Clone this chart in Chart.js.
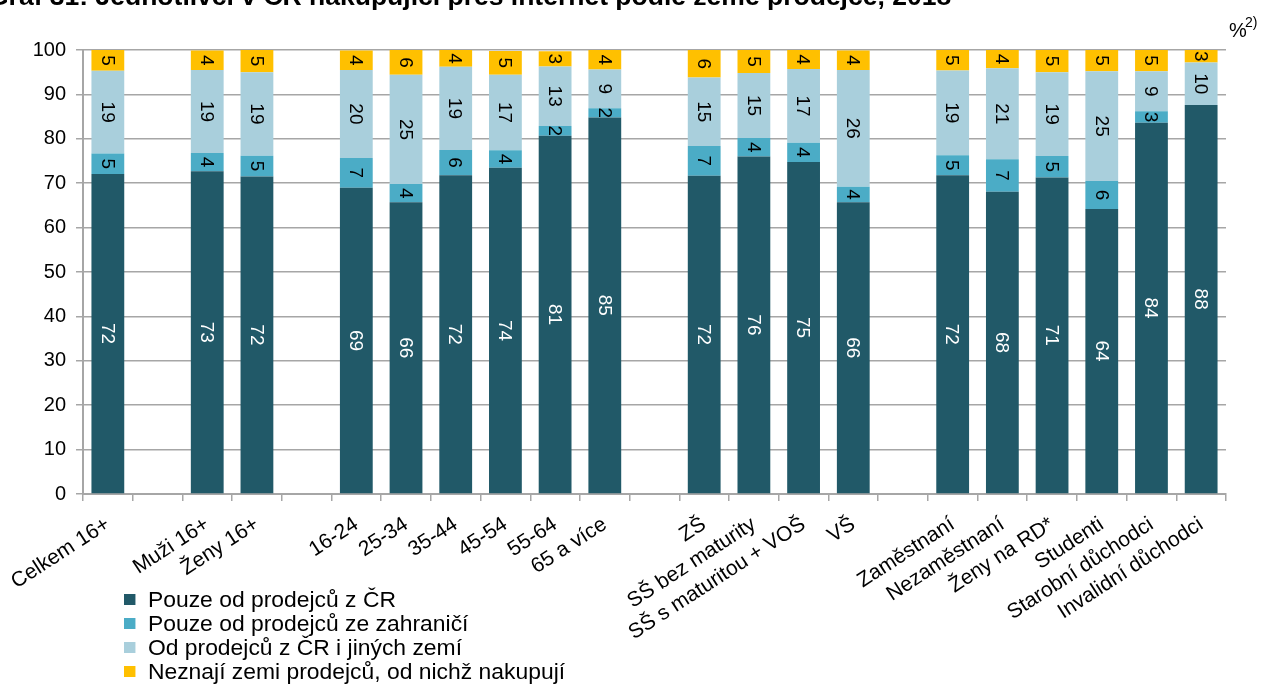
<!DOCTYPE html>
<html>
<head>
<meta charset="utf-8">
<script src="https://cdn.jsdelivr.net/npm/chart.js@4"></script>
<style>
  html, body { margin: 0; padding: 0; background: #fff; }
  #wrap { position: relative; width: 1265px; height: 688px; overflow: hidden; }
  #legend { position: absolute; left: 124px; top: 588px; font: 22px "Liberation Sans", Arial, sans-serif; color: #000; transform: scaleX(1.04); transform-origin: 0 0; }
  #legend div { height: 24px; line-height: 24px; white-space: nowrap; }
  #legend span { display: inline-block; width: 11px; height: 11px; margin-right: 12px; vertical-align: 2px; }
</style>
</head>
<body>
<div id="wrap">
  <canvas id="chart" width="1265" height="688"></canvas>
  <div id="legend"></div>
</div>
<script>
// empty strings are the gaps between groups
const categories = [
    "Celkem 16+", "",
    "Muži 16+", "Ženy 16+", "",
    "16-24", "25-34", "35-44", "45-54", "55-64", "65 a více", "",
    "ZŠ", "SŠ bez maturity", "SŠ s maturitou + VOŠ", "VŠ", "",
    "Zaměstnaní", "Nezaměstnaní", "Ženy na RD*", "Studenti", "Starobní důchodci", "Invalidní důchodci"
];

const onlyCz      = [72.1, null, 72.7, 71.5, null, 69.0, 65.7, 71.8, 73.5, 80.7, 84.8, null, 71.7, 76.0, 74.8, 65.7, null, 71.8, 68.1, 71.3, 64.2, 83.6, 87.6];
const onlyAbroad  = [4.6, null, 4.1, 4.7, null, 6.7, 4.1, 5.7, 3.9, 2.2, 2.1, null, 6.7, 4.2, 4.3, 3.5, null, 4.5, 7.3, 4.8, 6.3, 2.6, 0];
const czAndOther  = [18.6, null, 18.7, 18.8, null, 19.8, 24.6, 18.7, 17.0, 13.4, 8.7, null, 15.4, 14.6, 16.6, 26.3, null, 19.1, 20.5, 18.9, 24.7, 9.0, 9.6];
const unknown     = [4.7, null, 4.4, 5.0, null, 4.4, 5.6, 3.8, 5.4, 3.4, 4.4, null, 6.2, 5.2, 4.3, 4.4, null, 4.6, 4.1, 5.0, 4.8, 4.8, 2.8];

const yTicks = [0, 10, 20, 30, 40, 50, 60, 70, 80, 90, 100];

const seriesNames = [
    "Pouze od prodejců z ČR",
    "Pouze od prodejců ze zahraničí",
    "Od prodejců z ČR i jiných zemí",
    "Neznají zemi prodejců, od nichž nakupují"
];
const seriesColors = ["#215968", "#4BACC6", "#A9CFDC", "#FFC000"];
const labelColors = ["#ffffff", "#000000", "#000000", "#000000"];

const FONT = '"Liberation Sans", Arial, sans-serif';

/* value labels, rotated like in the original */
const barLabels = {
    id: 'barLabels',
    afterDatasetsDraw(chart) {
        const ctx = chart.ctx;
        chart.data.datasets.forEach((ds, di) => {
            const meta = chart.getDatasetMeta(di);
            meta.data.forEach((bar, i) => {
                const v = ds.data[i];
                if (!v) return;
                const yMid = (bar.y + bar.base) / 2;
                ctx.save();
                ctx.translate(bar.x, yMid);
                ctx.rotate(Math.PI / 2);
                ctx.font = '19px ' + FONT;
                ctx.fillStyle = labelColors[di];
                ctx.textAlign = 'center';
                ctx.textBaseline = 'middle';
                ctx.fillText(Math.round(v).toString(), 0, 1);
                ctx.restore();
            });
        });
    }
};

/* clipped title and unit note */
const extraText = {
    id: 'extraText',
    afterDraw(chart) {
        const ctx = chart.ctx;
        ctx.save();
        ctx.fillStyle = '#000';
        ctx.font = 'bold 26.5px ' + FONT;
        ctx.textBaseline = 'alphabetic';
        ctx.fillText("Graf 31: Jednotlivci v ČR nakupující přes internet podle země prodejce, 2018", -12, 5);
        ctx.font = '20px ' + FONT;
        ctx.fillText("%", 1229, 37);
        ctx.font = '14px ' + FONT;
        ctx.fillText("2)", 1245, 27);
        ctx.restore();
    }
};

const datasets = [onlyCz, onlyAbroad, czAndOther, unknown].map((d, i) => ({
    label: seriesNames[i],
    data: d,
    backgroundColor: seriesColors[i],
    borderWidth: 0,
    barPercentage: 0.66,
    categoryPercentage: 1.0
}));

const config = {
    type: 'bar',
    data: { labels: categories, datasets: datasets },
    options: {
        responsive: false,
        animation: false,
        layout: { padding: { top: 50, right: 39, left: 0, bottom: 0 } },
        plugins: {
            legend: { display: false },
            tooltip: { enabled: false }
        },
        scales: {
            x: {
                stacked: true,
                offset: true,
                grid: {
                    offset: true,
                    drawOnChartArea: false,
                    drawTicks: true,
                    tickLength: 7,
                    color: '#A6A6A6',
                    lineWidth: 1.5
                },
                border: { color: '#A6A6A6', width: 2 },
                ticks: {
                    autoSkip: false,
                    minRotation: 33,
                    maxRotation: 33,
                    color: '#000',
                    padding: 11,
                    font: { family: FONT, size: 21 }
                },
                afterFit(scale) { scale.height = 194; }
            },
            y: {
                stacked: true,
                min: 0,
                max: 100,
                afterBuildTicks(scale) { scale.ticks = yTicks.map(v => ({ value: v })); },
                grid: {
                    color: '#A6A6A6',
                    lineWidth: 1.5,
                    tickLength: 7
                },
                border: { color: '#A6A6A6', width: 2 },
                ticks: {
                    color: '#000',
                    padding: 10,
                    font: { family: FONT, size: 20 }
                },
                afterFit(scale) { scale.width = 83; }
            }
        }
    },
    plugins: [barLabels, extraText]
};

const chart = new Chart(document.getElementById('chart'), config);

// legend in one column, as in the original
const legendEl = document.getElementById('legend');
seriesNames.forEach((name, i) => {
    const row = document.createElement('div');
    row.innerHTML = '<span style="background:' + seriesColors[i] + '"></span>' + name;
    legendEl.appendChild(row);
});
</script>
</body>
</html>
